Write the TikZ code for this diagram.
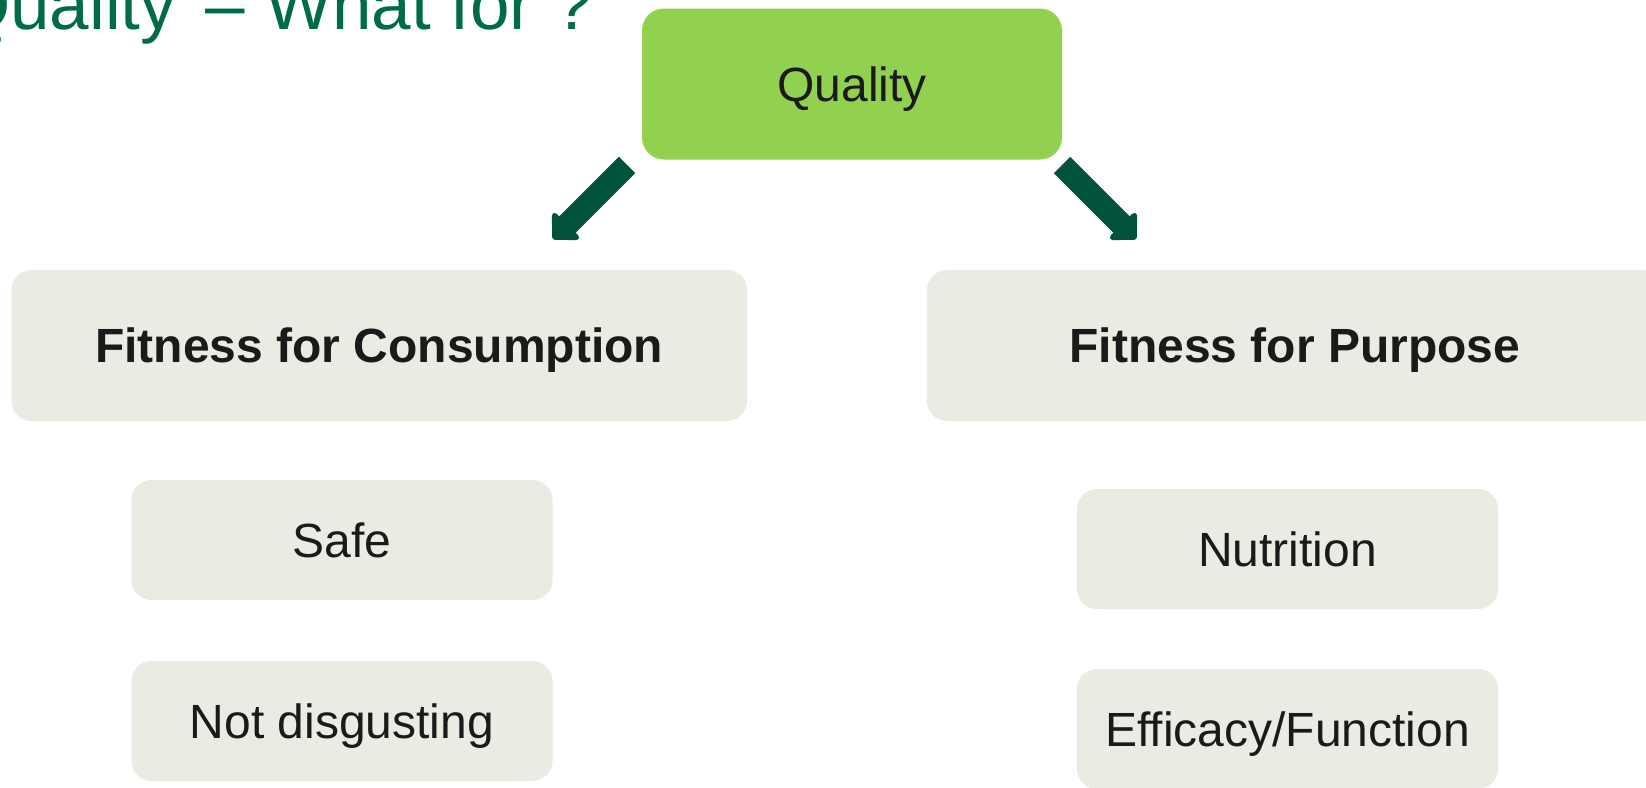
\documentclass[tikz,border=0pt]{standalone}
\usepackage{fontspec}
\setmainfont{Liberation Sans}
\usetikzlibrary{arrows.meta}
\definecolor{leaf}{HTML}{92D050}
\definecolor{stone}{HTML}{EAEBE2}
\definecolor{pine}{HTML}{00533A}
\definecolor{titlegreen}{HTML}{006B47}
\definecolor{ink}{HTML}{1A1A1A}

\begin{document}
\begin{tikzpicture}[x=1pt, y=-1pt,
  box/.style={rectangle, rounded corners=20pt, fill=stone, inner sep=0pt,
    text=ink, text depth=0pt, font=\fontsize{48}{56}\selectfont},
  topbox/.style={box, fill=leaf, rounded corners=22pt,
    minimum width=420pt, minimum height=151pt},
  widebox/.style={box, minimum width=735.5pt, minimum height=151pt,
    font=\bfseries\fontsize{48}{56}\selectfont},
  smallbox/.style={box, minimum width=421pt, minimum height=120pt},
  blockarrow/.style={pine, line width=23pt,
    -{Triangle[length=21.5pt, width=43pt, round=false]}}]

% page frame (also crops the overhanging title and boxes)
\clip (0,0) rectangle (1646,787);
\fill[white] (0,0) rectangle (1646,787);

% heading
\node[anchor=base west, inner sep=0pt, text=titlegreen,
  font=\fontsize{71}{80}\selectfont] (title) at (-45,29)
  {Quality\hspace{10pt} – What for ?};

% root
\node[topbox] (quality) at (852,84) {Quality};

% the two branches
\node[widebox] (cons) at (379.25,345.5) {Fitness for Consumption};
\node[widebox] (purp) at (1294.75,345.5) {Fitness for Purpose};

% items under each branch
\node[smallbox] (safe)  at (342,540)    {Safe};
\node[smallbox] (disg)  at (342,721)    {Not disgusting};
\node[smallbox] (nutr)  at (1287.5,549) {Nutrition};
\node[smallbox] (effi)  at (1287.5,729) {Efficacy/Function};

% block arrows from the root towards the branches
\coordinate (la0) at (627,165);
\coordinate (la1) at (553,239);
\coordinate (ra0) at (1062,165);
\coordinate (ra1) at (1136,239);
\draw[blockarrow] (la0) -- (la1);
\draw[blockarrow] (ra0) -- (ra1);
\end{tikzpicture}
\end{document}
